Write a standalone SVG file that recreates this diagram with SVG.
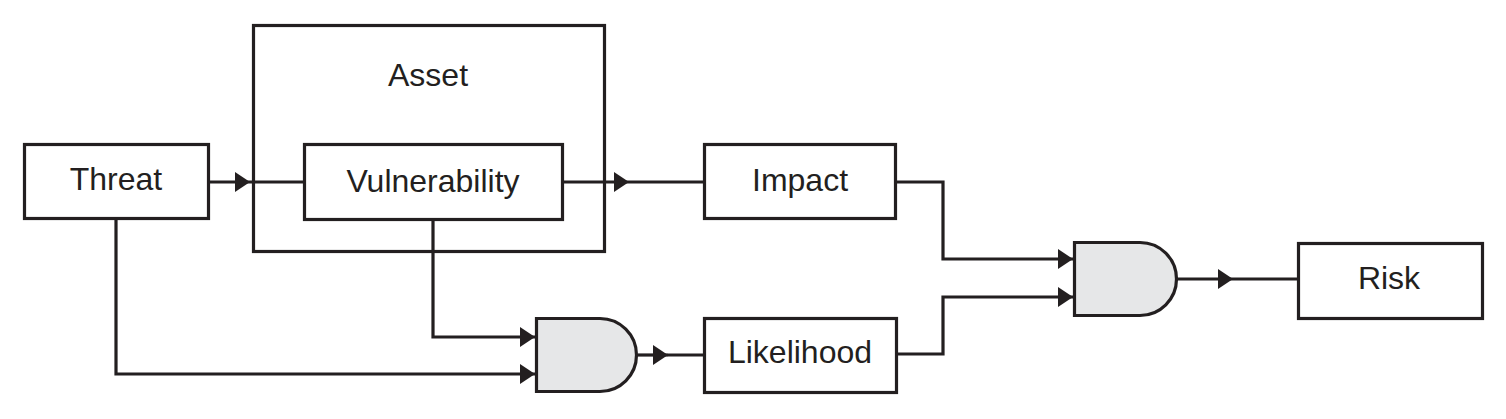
<svg xmlns="http://www.w3.org/2000/svg" width="1506" height="419" viewBox="0 0 1506 419">
<defs>
<style>
.box{fill:#fff;stroke:#231f20;stroke-width:3.2}
.gate{fill:#e6e7e8;stroke:#231f20;stroke-width:3.2}
.wire{fill:none;stroke:#231f20;stroke-width:3.2}
.lbl{font-family:"Liberation Sans",Arial,sans-serif;font-size:32px;fill:#231f20;text-anchor:middle}
</style>
<marker id="arr" markerUnits="userSpaceOnUse" markerWidth="16" markerHeight="20" refX="15" refY="10" orient="auto">
<path d="M0,0 L15,10 L0,20 Z" fill="#231f20"/>
</marker>
</defs>
<rect width="1506" height="419" fill="#fff"/>
<g id="asset">
<rect class="box" x="253.5" y="25.5" width="351" height="226"/>
<text class="lbl" x="428" y="86">Asset</text>
</g>
<g id="connectors">
<path class="wire" d="M209,182 H250" marker-end="url(#arr)"/>
<path class="wire" d="M250,182 H303"/>
<path class="wire" d="M563,182 H629" marker-end="url(#arr)"/>
<path class="wire" d="M629,182 H703"/>
<path class="wire" d="M433,220 V337 H535" marker-end="url(#arr)"/>
<path class="wire" d="M116,219 V374 H535" marker-end="url(#arr)"/>
<path class="wire" d="M638,355 H668" marker-end="url(#arr)"/>
<path class="wire" d="M668,355 H703"/>
<path class="wire" d="M896,182 H943 V259 H1073" marker-end="url(#arr)"/>
<path class="wire" d="M897,354 H943 V297 H1073" marker-end="url(#arr)"/>
<path class="wire" d="M1177,279 H1233" marker-end="url(#arr)"/>
<path class="wire" d="M1233,279 H1297"/>
</g>
<g id="threat">
<rect class="box" x="24.5" y="144.5" width="184" height="74"/>
<text class="lbl" x="116" y="190">Threat</text>
</g>
<g id="vulnerability">
<rect class="box" x="304.5" y="144.5" width="258" height="75"/>
<text class="lbl" x="433" y="192">Vulnerability</text>
</g>
<g id="impact">
<rect class="box" x="704.5" y="144.5" width="191" height="74"/>
<text class="lbl" x="800" y="191">Impact</text>
</g>
<g id="and1">
<path class="gate" d="M536.5,318.5 H600 A36.5,36.5 0 0 1 600,391.5 H536.5 Z"/>
</g>
<g id="likelihood">
<rect class="box" x="704.5" y="318.5" width="192" height="74"/>
<text class="lbl" x="800" y="363">Likelihood</text>
</g>
<g id="and2">
<path class="gate" d="M1074.5,242.5 H1140 A36.5,36.5 0 0 1 1140,315.5 H1074.5 Z"/>
</g>
<g id="risk">
<rect class="box" x="1298.5" y="243.5" width="184" height="75"/>
<text class="lbl" x="1389" y="289">Risk</text>
</g>
</svg>
